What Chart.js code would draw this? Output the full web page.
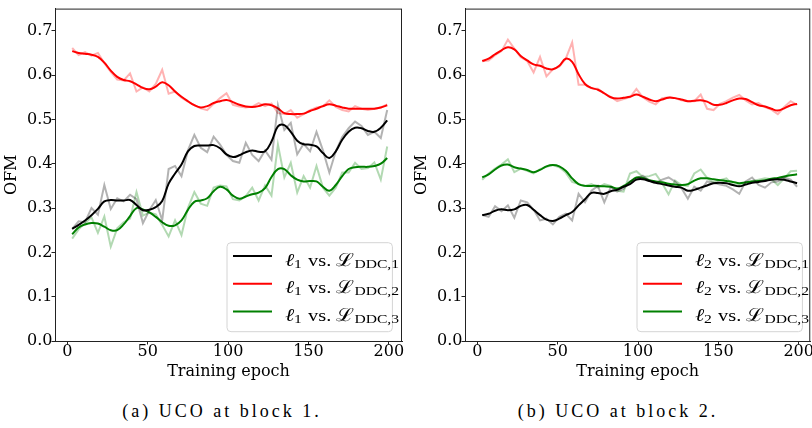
<!DOCTYPE html>
<html>
<head>
<meta charset="utf-8">
<script src="https://cdn.jsdelivr.net/npm/chart.js@4.4.1/dist/chart.umd.min.js"></script>
<style>
  body { margin: 0; background: #fff; width: 812px; height: 428px; overflow: hidden; position: relative; }
  canvas { position: absolute; top: 0; }
  #blk1 { left: 0; }
  #blk2 { left: 410px; }
  .cap { position: absolute; top: 400px; width: 300px; text-align: center;
         font: 18px "Liberation Serif", serif; letter-spacing: 3px; color: #000; line-height: 22px; }
</style>
</head>
<body>
<canvas id="blk1" width="410" height="382"></canvas>
<canvas id="blk2" width="402" height="382"></canvas>
<div class="cap" style="left:72px">(a) UCO at block 1.</div>
<div class="cap" style="left:468px">(b) UCO at block 2.</div>
<script>
// epochs where OFM was measured
const epochs = [3, 7, 11, 15, 19, 23, 27, 31, 35, 39, 43, 47, 51, 55, 59, 63, 67, 71, 75, 79,
  83, 87, 91, 95, 99, 103, 107, 111, 115, 119, 123, 127, 131, 135, 139, 143, 147, 151, 155, 159,
  163, 167, 171, 175, 179, 183, 187, 191, 195, 199]

const yTicks = [0, 0.1, 0.2, 0.3, 0.4, 0.5, 0.6, 0.7]
const xTicks = [0, 50, 100, 150, 200]

// block 1
const b1Ddc1Raw = [0.253, 0.270, 0.268, 0.300, 0.285, 0.352, 0.298, 0.322, 0.315, 0.330, 0.320, 0.266, 0.295, 0.318, 0.272, 0.388, 0.395, 0.372, 0.430, 0.465,
  0.436, 0.426, 0.461, 0.443, 0.420, 0.406, 0.402, 0.447, 0.420, 0.406, 0.430, 0.409, 0.532, 0.476, 0.492, 0.421, 0.445, 0.428, 0.472, 0.430,
  0.380, 0.428, 0.460, 0.480, 0.495, 0.485, 0.465, 0.472, 0.458, 0.521]
const b1Ddc1 = [0.253, 0.262, 0.272, 0.284, 0.298, 0.315, 0.318, 0.317, 0.317, 0.318, 0.307, 0.295, 0.296, 0.302, 0.316, 0.355, 0.378, 0.398, 0.428, 0.440,
  0.441, 0.441, 0.442, 0.435, 0.421, 0.415, 0.419, 0.426, 0.430, 0.427, 0.428, 0.450, 0.484, 0.487, 0.472, 0.452, 0.444, 0.443, 0.439, 0.424,
  0.413, 0.428, 0.454, 0.472, 0.481, 0.480, 0.474, 0.472, 0.481, 0.498]
const b1Ddc2Raw = [0.661, 0.645, 0.652, 0.644, 0.650, 0.627, 0.607, 0.590, 0.588, 0.604, 0.563, 0.572, 0.563, 0.580, 0.612, 0.558, 0.563, 0.549, 0.540, 0.532,
  0.525, 0.521, 0.535, 0.548, 0.559, 0.533, 0.529, 0.527, 0.529, 0.537, 0.530, 0.536, 0.514, 0.512, 0.521, 0.504, 0.512, 0.521, 0.527, 0.529,
  0.543, 0.528, 0.521, 0.518, 0.530, 0.524, 0.521, 0.524, 0.527, 0.534]
const b1Ddc2 = [0.654, 0.650, 0.648, 0.646, 0.641, 0.628, 0.610, 0.596, 0.589, 0.586, 0.579, 0.571, 0.568, 0.574, 0.584, 0.577, 0.563, 0.551, 0.541, 0.532,
  0.527, 0.530, 0.537, 0.541, 0.544, 0.539, 0.533, 0.529, 0.528, 0.530, 0.534, 0.532, 0.525, 0.514, 0.512, 0.512, 0.513, 0.519, 0.524, 0.530,
  0.534, 0.531, 0.527, 0.524, 0.524, 0.524, 0.524, 0.524, 0.527, 0.532]
const b1Ddc3Raw = [0.231, 0.252, 0.266, 0.279, 0.244, 0.281, 0.213, 0.254, 0.268, 0.276, 0.336, 0.283, 0.290, 0.286, 0.262, 0.236, 0.272, 0.239, 0.300, 0.336,
  0.310, 0.305, 0.346, 0.351, 0.349, 0.320, 0.317, 0.327, 0.346, 0.317, 0.351, 0.328, 0.443, 0.369, 0.402, 0.335, 0.372, 0.346, 0.395, 0.346,
  0.328, 0.346, 0.380, 0.380, 0.402, 0.388, 0.390, 0.403, 0.364, 0.439]
const b1Ddc3 = [0.241, 0.256, 0.263, 0.266, 0.265, 0.258, 0.250, 0.250, 0.263, 0.282, 0.300, 0.297, 0.290, 0.280, 0.268, 0.260, 0.261, 0.272, 0.296, 0.314,
  0.317, 0.322, 0.338, 0.348, 0.342, 0.328, 0.321, 0.326, 0.331, 0.335, 0.345, 0.370, 0.388, 0.388, 0.374, 0.364, 0.360, 0.361, 0.360, 0.348,
  0.339, 0.352, 0.372, 0.388, 0.392, 0.393, 0.393, 0.395, 0.400, 0.413]

// block 2
const b2Ddc1Raw = [0.284, 0.280, 0.304, 0.293, 0.306, 0.278, 0.317, 0.313, 0.296, 0.272, 0.276, 0.263, 0.280, 0.287, 0.272, 0.332, 0.313, 0.339, 0.350, 0.313,
  0.347, 0.337, 0.343, 0.360, 0.366, 0.373, 0.362, 0.357, 0.364, 0.369, 0.360, 0.345, 0.321, 0.348, 0.339, 0.360, 0.357, 0.353, 0.350, 0.342,
  0.332, 0.360, 0.369, 0.352, 0.346, 0.358, 0.360, 0.369, 0.364, 0.348]
const b2Ddc1 = [0.284, 0.287, 0.294, 0.297, 0.295, 0.297, 0.305, 0.307, 0.296, 0.284, 0.274, 0.271, 0.276, 0.284, 0.291, 0.306, 0.320, 0.334, 0.334, 0.332,
  0.338, 0.341, 0.348, 0.354, 0.364, 0.365, 0.361, 0.357, 0.354, 0.351, 0.348, 0.346, 0.339, 0.341, 0.346, 0.351, 0.356, 0.357, 0.356, 0.352,
  0.349, 0.353, 0.357, 0.359, 0.361, 0.364, 0.365, 0.364, 0.360, 0.356]
const b2Ddc2Raw = [0.631, 0.633, 0.645, 0.654, 0.680, 0.660, 0.640, 0.632, 0.606, 0.641, 0.597, 0.613, 0.619, 0.637, 0.674, 0.578, 0.578, 0.570, 0.569, 0.558,
  0.551, 0.541, 0.546, 0.550, 0.569, 0.550, 0.540, 0.534, 0.548, 0.550, 0.548, 0.543, 0.541, 0.541, 0.556, 0.524, 0.521, 0.535, 0.541, 0.549,
  0.555, 0.543, 0.534, 0.537, 0.528, 0.522, 0.512, 0.528, 0.541, 0.533]
const b2Ddc2 = [0.632, 0.637, 0.647, 0.656, 0.663, 0.658, 0.643, 0.633, 0.624, 0.621, 0.615, 0.613, 0.621, 0.637, 0.630, 0.602, 0.580, 0.571, 0.567, 0.559,
  0.550, 0.547, 0.549, 0.551, 0.556, 0.551, 0.545, 0.541, 0.545, 0.549, 0.548, 0.545, 0.541, 0.542, 0.543, 0.540, 0.533, 0.533, 0.537, 0.543,
  0.547, 0.546, 0.539, 0.532, 0.529, 0.524, 0.520, 0.525, 0.532, 0.535]
const b2Ddc3Raw = [0.364, 0.378, 0.389, 0.398, 0.410, 0.381, 0.389, 0.384, 0.378, 0.388, 0.393, 0.397, 0.392, 0.380, 0.359, 0.354, 0.350, 0.354, 0.346, 0.354,
  0.350, 0.339, 0.337, 0.378, 0.383, 0.370, 0.372, 0.377, 0.356, 0.331, 0.362, 0.352, 0.350, 0.378, 0.387, 0.368, 0.358, 0.363, 0.367, 0.352,
  0.352, 0.356, 0.361, 0.364, 0.367, 0.365, 0.352, 0.367, 0.383, 0.384]
const b2Ddc3 = [0.369, 0.376, 0.387, 0.396, 0.398, 0.392, 0.389, 0.386, 0.381, 0.386, 0.394, 0.397, 0.394, 0.384, 0.367, 0.354, 0.350, 0.350, 0.350, 0.349,
  0.348, 0.344, 0.350, 0.359, 0.369, 0.368, 0.363, 0.360, 0.358, 0.355, 0.353, 0.352, 0.354, 0.362, 0.367, 0.367, 0.365, 0.363, 0.361, 0.359,
  0.356, 0.358, 0.360, 0.361, 0.363, 0.366, 0.368, 0.371, 0.374, 0.376]

const colors = ['#000000', '#ff0000', '#008000']
const fadedColors = ['rgba(0,0,0,0.3)', 'rgba(255,0,0,0.3)', 'rgba(0,128,0,0.3)']

const serif = '"DejaVu Serif", serif'
const mathFont = '"Liberation Serif", "DejaVu Serif", serif'

const pts = arr => arr.map((v, i) => ({x: epochs[i], y: v}))

function buildDatasets(raws, smooths) {
  let ds = []
  raws.forEach((raw, k) => {
    ds.push({ data: pts(raw), borderColor: fadedColors[k], borderWidth: 2, pointRadius: 0, tension: 0 })
    ds.push({ data: pts(smooths[k]), borderColor: colors[k], borderWidth: 2, pointRadius: 0, tension: 0.4 })
  })
  return ds
}

// draws a run of text pieces, each with its own size and baseline shift
function drawRuns(ctx, x, y, runs) {
  runs.forEach(r => {
    ctx.font = (r.italic ? 'italic ' : '') + r.size + 'px ' + mathFont
    ctx.fillText(r.t, x, y + (r.dy || 0))
    x += ctx.measureText(r.t).width + (r.gap || 0)
  })
}

const mathLegend = {
  id: 'mathLegend',
  afterDraw(chart, args, opts) {
    const {ctx, chartArea} = chart
    const x0 = chartArea.left + 172
    const y0 = chartArea.bottom - 98.3
    ctx.save()
    ctx.beginPath()
    ctx.roundRect(x0, y0, 165.4, 89, 4)
    ctx.fillStyle = 'rgba(255,255,255,0.8)'
    ctx.fill()
    ctx.strokeStyle = '#d4d4d4'
    ctx.lineWidth = 1
    ctx.stroke()
    for (let k = 0; k < 3; k++) {
      const y = y0 + 13.3 + k * 27.8
      ctx.strokeStyle = colors[k]
      ctx.lineWidth = 2
      ctx.beginPath()
      ctx.moveTo(x0 + 6, y)
      ctx.lineTo(x0 + 45, y)
      ctx.stroke()
      ctx.fillStyle = '#000'
      ctx.textBaseline = 'alphabetic'
      ctx.save()
      ctx.translate(x0 + 58, y + 9.5)
      ctx.scale(1.2, 1)
      drawRuns(ctx, 0, 0, [
        {t: '\u2113', size: 18, italic: true},
        {t: String(opts.block), size: 13, dy: 2, gap: 1},
        {t: ' vs. ', size: 17},
        {t: '\u2112', size: 18},
        {t: 'DDC,' + (k + 1), size: 13, dy: 2}
      ])
      ctx.restore()
    }
    ctx.restore()
  }
}

// full box round the plot area
const frame = {
  id: 'frame',
  afterDatasetsDraw(chart) {
    const {ctx, chartArea: a} = chart
    ctx.save()
    ctx.strokeStyle = '#222'
    ctx.lineWidth = 1
    ctx.strokeRect(a.left + 0.5, a.top + 0.5, a.right - a.left - 1, a.bottom - a.top)
    ctx.restore()
  }
}

function makeChart(id, block, xMax, padRight, raws, smooths) {
  return new Chart(document.getElementById(id), {
    type: 'line',
    data: { datasets: buildDatasets(raws, smooths) },
    options: {
      responsive: false,
      animation: false,
      layout: { padding: { top: 4, right: padRight, left: 0, bottom: 0 } },
      plugins: { legend: { display: false }, tooltip: { enabled: false }, mathLegend: { block: block } },
      scales: {
        x: {
          type: 'linear', min: -7.7, max: xMax,
          afterBuildTicks: s => { s.ticks = xTicks.map(v => ({value: v})) },
          afterFit: s => { s.height = 41 },
          ticks: { color: '#000', font: { family: serif, size: 16 }, padding: -2, maxRotation: 0 },
          grid: { drawOnChartArea: false, tickLength: 3.5, color: '#222' },
          border: { color: '#222' },
          title: { display: true, text: 'Training epoch', color: '#000', font: { family: serif, size: 16 }, padding: { top: 0, bottom: 1 } }
        },
        y: {
          min: 0, max: 0.75,
          afterBuildTicks: s => { s.ticks = yTicks.map(v => ({value: v})) },
          afterFit: s => { s.width = 55 },
          ticks: { color: '#000', font: { family: serif, size: 16 }, padding: -1, callback: v => v.toFixed(1) },
          grid: { drawOnChartArea: false, tickLength: 3.5, color: '#222' },
          border: { color: '#222' },
          title: { display: true, text: 'OFM', color: '#000', font: { family: serif, size: 16 }, padding: { top: 2, bottom: 0 } }
        }
      }
    },
    plugins: [frame, mathLegend]
  })
}

makeChart('blk1', 1, 208.2, 8, [b1Ddc1Raw, b1Ddc2Raw, b1Ddc3Raw], [b1Ddc1, b1Ddc2, b1Ddc3])
makeChart('blk2', 2, 207.2, 1, [b2Ddc1Raw, b2Ddc2Raw, b2Ddc3Raw], [b2Ddc1, b2Ddc2, b2Ddc3])
</script>
</body>
</html>
